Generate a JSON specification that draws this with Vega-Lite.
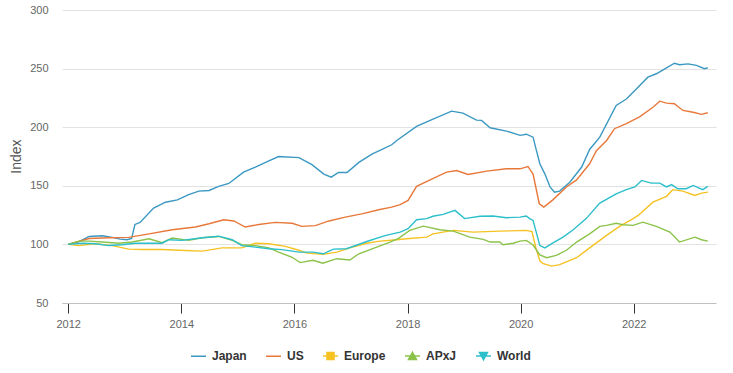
{
"$schema": "https://vega.github.io/schema/vega-lite/v6.json",
"width": 654, "height": 293,
"autosize": {"type": "none"},
"padding": {"left": 62, "top": 10, "right": 17, "bottom": 70},
"background": "white",
"config": {"view": {"stroke": null}, "font": "Liberation Sans"},
"datasets": {"raw": [
{"s":"Japan","t":2012.0,"v":100},{"s":"Japan","t":2012.2,"v":102.5},{"s":"Japan","t":2012.37,"v":106.8},{"s":"Japan","t":2012.6,"v":107.4},{"s":"Japan","t":2012.78,"v":106},{"s":"Japan","t":2012.92,"v":104.5},{"s":"Japan","t":2013.04,"v":104},{"s":"Japan","t":2013.12,"v":105},{"s":"Japan","t":2013.18,"v":117},{"s":"Japan","t":2013.27,"v":118.8},{"s":"Japan","t":2013.51,"v":131},{"s":"Japan","t":2013.72,"v":136},{"s":"Japan","t":2013.93,"v":138},{"s":"Japan","t":2014.13,"v":142.4},{"s":"Japan","t":2014.31,"v":145.5},{"s":"Japan","t":2014.49,"v":146},{"s":"Japan","t":2014.66,"v":149.5},{"s":"Japan","t":2014.84,"v":152},{"s":"Japan","t":2015.1,"v":161.7},{"s":"Japan","t":2015.31,"v":166},{"s":"Japan","t":2015.49,"v":170},{"s":"Japan","t":2015.72,"v":175},{"s":"Japan","t":2016.08,"v":174},{"s":"Japan","t":2016.31,"v":168},{"s":"Japan","t":2016.52,"v":160},{"s":"Japan","t":2016.65,"v":157.4},{"s":"Japan","t":2016.78,"v":161.4},{"s":"Japan","t":2016.93,"v":161.4},{"s":"Japan","t":2017.14,"v":170},{"s":"Japan","t":2017.37,"v":177},{"s":"Japan","t":2017.55,"v":181},{"s":"Japan","t":2017.72,"v":185},{"s":"Japan","t":2017.81,"v":188.7},{"s":"Japan","t":2018.16,"v":200.7},{"s":"Japan","t":2018.4,"v":205.8},{"s":"Japan","t":2018.78,"v":213.7},{"s":"Japan","t":2018.98,"v":212},{"s":"Japan","t":2019.22,"v":206},{"s":"Japan","t":2019.31,"v":205.8},{"s":"Japan","t":2019.46,"v":199.5},{"s":"Japan","t":2019.75,"v":196.7},{"s":"Japan","t":2019.99,"v":193},{"s":"Japan","t":2020.1,"v":194},{"s":"Japan","t":2020.22,"v":191.5},{"s":"Japan","t":2020.28,"v":180},{"s":"Japan","t":2020.34,"v":168.8},{"s":"Japan","t":2020.43,"v":160},{"s":"Japan","t":2020.52,"v":149},{"s":"Japan","t":2020.6,"v":144.6},{"s":"Japan","t":2020.69,"v":145.5},{"s":"Japan","t":2020.87,"v":153},{"s":"Japan","t":2021.08,"v":166},{"s":"Japan","t":2021.22,"v":181},{"s":"Japan","t":2021.4,"v":191.5},{"s":"Japan","t":2021.69,"v":218.6},{"s":"Japan","t":2021.87,"v":224},{"s":"Japan","t":2022.05,"v":232.8},{"s":"Japan","t":2022.25,"v":242.7},{"s":"Japan","t":2022.4,"v":245.6},{"s":"Japan","t":2022.52,"v":249},{"s":"Japan","t":2022.72,"v":254.6},{"s":"Japan","t":2022.81,"v":253.3},{"s":"Japan","t":2022.96,"v":254},{"s":"Japan","t":2023.11,"v":252.7},{"s":"Japan","t":2023.25,"v":249.9},{"s":"Japan","t":2023.31,"v":250.7},
{"s":"US","t":2012.0,"v":100},{"s":"US","t":2012.37,"v":105},{"s":"US","t":2012.72,"v":105.7},{"s":"US","t":2013.07,"v":106},{"s":"US","t":2013.43,"v":109},{"s":"US","t":2013.84,"v":112.5},{"s":"US","t":2014.25,"v":114.8},{"s":"US","t":2014.49,"v":117.6},{"s":"US","t":2014.75,"v":121},{"s":"US","t":2014.93,"v":120},{"s":"US","t":2015.13,"v":114.8},{"s":"US","t":2015.37,"v":117},{"s":"US","t":2015.66,"v":118.8},{"s":"US","t":2015.96,"v":118},{"s":"US","t":2016.13,"v":115.4},{"s":"US","t":2016.37,"v":116},{"s":"US","t":2016.61,"v":120},{"s":"US","t":2016.9,"v":123.3},{"s":"US","t":2017.19,"v":126},{"s":"US","t":2017.49,"v":129.6},{"s":"US","t":2017.72,"v":131.8},{"s":"US","t":2017.87,"v":134},{"s":"US","t":2018.01,"v":137.5},{"s":"US","t":2018.16,"v":149.5},{"s":"US","t":2018.4,"v":155},{"s":"US","t":2018.69,"v":161.7},{"s":"US","t":2018.87,"v":163},{"s":"US","t":2019.07,"v":159.7},{"s":"US","t":2019.4,"v":162.5},{"s":"US","t":2019.75,"v":164.5},{"s":"US","t":2019.99,"v":164.5},{"s":"US","t":2020.13,"v":166.5},{"s":"US","t":2020.22,"v":160},{"s":"US","t":2020.33,"v":134.7},{"s":"US","t":2020.41,"v":131.8},{"s":"US","t":2020.57,"v":138},{"s":"US","t":2020.81,"v":149},{"s":"US","t":2020.99,"v":155},{"s":"US","t":2021.22,"v":168.8},{"s":"US","t":2021.34,"v":180},{"s":"US","t":2021.52,"v":188.7},{"s":"US","t":2021.66,"v":198.7},{"s":"US","t":2021.87,"v":203},{"s":"US","t":2022.11,"v":209},{"s":"US","t":2022.34,"v":217},{"s":"US","t":2022.46,"v":222.2},{"s":"US","t":2022.58,"v":220.5},{"s":"US","t":2022.72,"v":220},{"s":"US","t":2022.87,"v":214.3},{"s":"US","t":2023.05,"v":212.8},{"s":"US","t":2023.2,"v":211},{"s":"US","t":2023.31,"v":212.3},
{"s":"Europe","t":2012.0,"v":100},{"s":"Europe","t":2012.19,"v":99},{"s":"Europe","t":2012.48,"v":100.5},{"s":"Europe","t":2012.78,"v":99},{"s":"Europe","t":2013.07,"v":96},{"s":"Europe","t":2013.31,"v":95.7},{"s":"Europe","t":2013.66,"v":95.7},{"s":"Europe","t":2013.96,"v":95},{"s":"Europe","t":2014.37,"v":94.3},{"s":"Europe","t":2014.72,"v":97},{"s":"Europe","t":2015.07,"v":97},{"s":"Europe","t":2015.31,"v":101},{"s":"Europe","t":2015.55,"v":100.6},{"s":"Europe","t":2015.84,"v":98.3},{"s":"Europe","t":2016.08,"v":95},{"s":"Europe","t":2016.22,"v":92.6},{"s":"Europe","t":2016.51,"v":91.5},{"s":"Europe","t":2016.75,"v":93.4},{"s":"Europe","t":2016.98,"v":97},{"s":"Europe","t":2017.28,"v":101},{"s":"Europe","t":2017.51,"v":102.8},{"s":"Europe","t":2017.81,"v":104},{"s":"Europe","t":2017.98,"v":104.8},{"s":"Europe","t":2018.34,"v":106.2},{"s":"Europe","t":2018.45,"v":109},{"s":"Europe","t":2018.81,"v":112},{"s":"Europe","t":2019.16,"v":110.5},{"s":"Europe","t":2019.63,"v":111.3},{"s":"Europe","t":2020.1,"v":112},{"s":"Europe","t":2020.2,"v":111},{"s":"Europe","t":2020.27,"v":97},{"s":"Europe","t":2020.34,"v":86},{"s":"Europe","t":2020.4,"v":83.5},{"s":"Europe","t":2020.55,"v":81.5},{"s":"Europe","t":2020.69,"v":82.7},{"s":"Europe","t":2020.99,"v":88.6},{"s":"Europe","t":2021.22,"v":97},{"s":"Europe","t":2021.52,"v":107.7},{"s":"Europe","t":2021.75,"v":115.4},{"s":"Europe","t":2021.99,"v":122},{"s":"Europe","t":2022.08,"v":124.7},{"s":"Europe","t":2022.34,"v":136},{"s":"Europe","t":2022.58,"v":141},{"s":"Europe","t":2022.69,"v":146.7},{"s":"Europe","t":2022.87,"v":145.5},{"s":"Europe","t":2023.08,"v":141.8},{"s":"Europe","t":2023.2,"v":143.8},{"s":"Europe","t":2023.31,"v":144.6},
{"s":"APxJ","t":2012.0,"v":100},{"s":"APxJ","t":2012.19,"v":102.8},{"s":"APxJ","t":2012.37,"v":102.8},{"s":"APxJ","t":2012.6,"v":102},{"s":"APxJ","t":2012.9,"v":101},{"s":"APxJ","t":2013.13,"v":102},{"s":"APxJ","t":2013.43,"v":104.8},{"s":"APxJ","t":2013.66,"v":101.4},{"s":"APxJ","t":2013.84,"v":105.4},{"s":"APxJ","t":2014.13,"v":103.4},{"s":"APxJ","t":2014.37,"v":105.7},{"s":"APxJ","t":2014.66,"v":106.8},{"s":"APxJ","t":2014.9,"v":103.4},{"s":"APxJ","t":2015.07,"v":99.7},{"s":"APxJ","t":2015.31,"v":99},{"s":"APxJ","t":2015.55,"v":97},{"s":"APxJ","t":2015.72,"v":93.4},{"s":"APxJ","t":2015.96,"v":89},{"s":"APxJ","t":2016.1,"v":84.5},{"s":"APxJ","t":2016.33,"v":86.4},{"s":"APxJ","t":2016.5,"v":84},{"s":"APxJ","t":2016.75,"v":87.8},{"s":"APxJ","t":2016.98,"v":86.7},{"s":"APxJ","t":2017.14,"v":92},{"s":"APxJ","t":2017.42,"v":97},{"s":"APxJ","t":2017.69,"v":102},{"s":"APxJ","t":2017.84,"v":105.2},{"s":"APxJ","t":2018.04,"v":112},{"s":"APxJ","t":2018.28,"v":115.6},{"s":"APxJ","t":2018.57,"v":112.5},{"s":"APxJ","t":2018.81,"v":111.3},{"s":"APxJ","t":2019.1,"v":106.2},{"s":"APxJ","t":2019.34,"v":104.3},{"s":"APxJ","t":2019.46,"v":102},{"s":"APxJ","t":2019.63,"v":102},{"s":"APxJ","t":2019.69,"v":99.7},{"s":"APxJ","t":2019.87,"v":101},{"s":"APxJ","t":2019.99,"v":102.8},{"s":"APxJ","t":2020.1,"v":103.4},{"s":"APxJ","t":2020.22,"v":99.5},{"s":"APxJ","t":2020.34,"v":91},{"s":"APxJ","t":2020.46,"v":88.6},{"s":"APxJ","t":2020.63,"v":90.6},{"s":"APxJ","t":2020.81,"v":95},{"s":"APxJ","t":2020.99,"v":102},{"s":"APxJ","t":2021.22,"v":109},{"s":"APxJ","t":2021.4,"v":115.4},{"s":"APxJ","t":2021.52,"v":116.2},{"s":"APxJ","t":2021.69,"v":118},{"s":"APxJ","t":2021.81,"v":116.8},{"s":"APxJ","t":2021.99,"v":116.2},{"s":"APxJ","t":2022.16,"v":119},{"s":"APxJ","t":2022.4,"v":115.4},{"s":"APxJ","t":2022.64,"v":110.5},{"s":"APxJ","t":2022.81,"v":102},{"s":"APxJ","t":2023.08,"v":106.2},{"s":"APxJ","t":2023.2,"v":104},{"s":"APxJ","t":2023.31,"v":102.8},
{"s":"World","t":2012.0,"v":100},{"s":"World","t":2012.25,"v":101},{"s":"World","t":2012.48,"v":100.6},{"s":"World","t":2012.72,"v":99},{"s":"World","t":2012.95,"v":99.7},{"s":"World","t":2013.19,"v":101},{"s":"World","t":2013.43,"v":101},{"s":"World","t":2013.66,"v":101},{"s":"World","t":2013.78,"v":104},{"s":"World","t":2014.01,"v":103.4},{"s":"World","t":2014.37,"v":105.7},{"s":"World","t":2014.66,"v":107},{"s":"World","t":2014.9,"v":104},{"s":"World","t":2015.07,"v":99},{"s":"World","t":2015.31,"v":97.7},{"s":"World","t":2015.55,"v":96.3},{"s":"World","t":2015.78,"v":95.5},{"s":"World","t":2016.08,"v":93.4},{"s":"World","t":2016.33,"v":93.4},{"s":"World","t":2016.51,"v":92},{"s":"World","t":2016.69,"v":96},{"s":"World","t":2016.92,"v":96.3},{"s":"World","t":2017.28,"v":102.5},{"s":"World","t":2017.6,"v":107.5},{"s":"World","t":2017.87,"v":110.5},{"s":"World","t":2018.01,"v":113.4},{"s":"World","t":2018.16,"v":121},{"s":"World","t":2018.34,"v":122},{"s":"World","t":2018.45,"v":124},{"s":"World","t":2018.63,"v":125.6},{"s":"World","t":2018.84,"v":129},{"s":"World","t":2019.01,"v":122},{"s":"World","t":2019.28,"v":124},{"s":"World","t":2019.51,"v":124.2},{"s":"World","t":2019.75,"v":122.8},{"s":"World","t":2019.99,"v":123.3},{"s":"World","t":2020.1,"v":124.2},{"s":"World","t":2020.16,"v":122},{"s":"World","t":2020.22,"v":120.5},{"s":"World","t":2020.34,"v":99},{"s":"World","t":2020.43,"v":97},{"s":"World","t":2020.55,"v":100.6},{"s":"World","t":2020.75,"v":106.2},{"s":"World","t":2020.93,"v":112.5},{"s":"World","t":2021.16,"v":122},{"s":"World","t":2021.4,"v":135.2},{"s":"World","t":2021.69,"v":143.2},{"s":"World","t":2021.87,"v":146.7},{"s":"World","t":2022.02,"v":149},{"s":"World","t":2022.14,"v":154.6},{"s":"World","t":2022.31,"v":152.3},{"s":"World","t":2022.46,"v":152.3},{"s":"World","t":2022.58,"v":149},{"s":"World","t":2022.67,"v":151},{"s":"World","t":2022.78,"v":147.5},{"s":"World","t":2022.93,"v":147.5},{"s":"World","t":2023.05,"v":150.3},{"s":"World","t":2023.22,"v":146.7},{"s":"World","t":2023.31,"v":149.5}
]},
"data": {"name": "raw"},
"encoding": {
  "x": {"field": "t", "type": "quantitative", "scale": {"domain": [2011.89, 2023.455], "nice": false, "zero": false},
    "axis": {"values": [2012, 2014, 2016, 2018, 2020, 2022], "format": "d", "title": null, "grid": false, "domainColor": "#c0c0c0", "tickColor": "#333333", "tickSize": 10, "labelPadding": 5, "labelFontSize": 11, "labelColor": "#666666", "labelFont": "Liberation Sans", "labelFlush": false}},
  "y": {"field": "v", "type": "quantitative", "scale": {"domain": [50, 300], "nice": false, "zero": false},
    "axis": {"values": [50, 100, 150, 200, 250, 300], "title": "Index", "grid": true, "gridColor": "#e2e2e2", "domain": false, "ticks": false, "labelPadding": 14, "labelFontSize": 11, "labelColor": "#666666", "labelFont": "Liberation Sans", "titleFont": "Liberation Sans", "titleFontSize": 14, "titleFontWeight": "normal", "titleColor": "#555555", "titleX": -46, "titleY": 146, "titleAlign": "center", "titleBaseline": "middle", "titleAngle": -90}}
},
"layer": [
  {"mark": {"type": "line", "strokeWidth": 1.4},
   "encoding": {
     "color": {"field": "s", "type": "nominal",
       "scale": {"domain": ["Japan", "US", "Europe", "APxJ", "World"], "range": ["#3A98C2", "#E8783A", "#F6C223", "#8BC34A", "#2BBFCB"]},
       "legend": {"title": null, "orient": "none", "legendX": 128, "legendY": 337, "direction": "horizontal", "symbolSize": 225, "labelFont": "Liberation Sans", "labelFontSize": 12, "labelFontWeight": "bold", "labelColor": "#333333", "labelOffset": 5, "columnPadding": 16, "symbolStrokeWidth": 1.5, "symbolOpacity": 1, "padding": 0,
         "encode": {"symbols": {"update": {"fill": {"scale": "color", "field": "value"}, "stroke": {"scale": "color", "field": "value"}, "opacity": {"value": 1}}}}}
     }}},
  {"mark": {"type": "point", "filled": true, "opacity": 0},
   "encoding": {
     "color": {"field": "s", "type": "nominal",
       "scale": {"domain": ["Japan", "US", "Europe", "APxJ", "World"], "range": ["#3A98C2", "#E8783A", "#F6C223", "#8BC34A", "#2BBFCB"]},
       "legend": {"title": null, "orient": "none", "legendX": 128, "legendY": 337, "direction": "horizontal", "symbolSize": 225, "labelFont": "Liberation Sans", "labelFontSize": 12, "labelFontWeight": "bold", "labelColor": "#333333", "labelOffset": 5, "columnPadding": 16, "symbolStrokeWidth": 1.5, "symbolOpacity": 1, "padding": 0,
         "encode": {"symbols": {"update": {"fill": {"scale": "color", "field": "value"}, "stroke": {"scale": "color", "field": "value"}, "opacity": {"value": 1}}}}}},
     "shape": {"field": "s", "type": "nominal",
       "scale": {"domain": ["Japan", "US", "Europe", "APxJ", "World"], "range": ["M-1,0L1,0", "M-1,0L1,0", "M-1,0L1,0M-0.47,-0.47L0.47,-0.47L0.47,0.47L-0.47,0.47Z", "M-1,0L1,0M0,-0.5L0.53,0.45L-0.53,0.45Z", "M-1,0L1,0M-0.53,-0.45L0.53,-0.45L0,0.5Z"]},
       "legend": {"title": null, "orient": "none", "legendX": 128, "legendY": 337, "direction": "horizontal", "symbolSize": 225, "labelFont": "Liberation Sans", "labelFontSize": 12, "labelFontWeight": "bold", "labelColor": "#333333", "labelOffset": 5, "columnPadding": 16, "symbolStrokeWidth": 1.5, "symbolOpacity": 1, "padding": 0,
         "encode": {"symbols": {"update": {"fill": {"scale": "color", "field": "value"}, "stroke": {"scale": "color", "field": "value"}, "opacity": {"value": 1}}}}}}
   }}
]
}
